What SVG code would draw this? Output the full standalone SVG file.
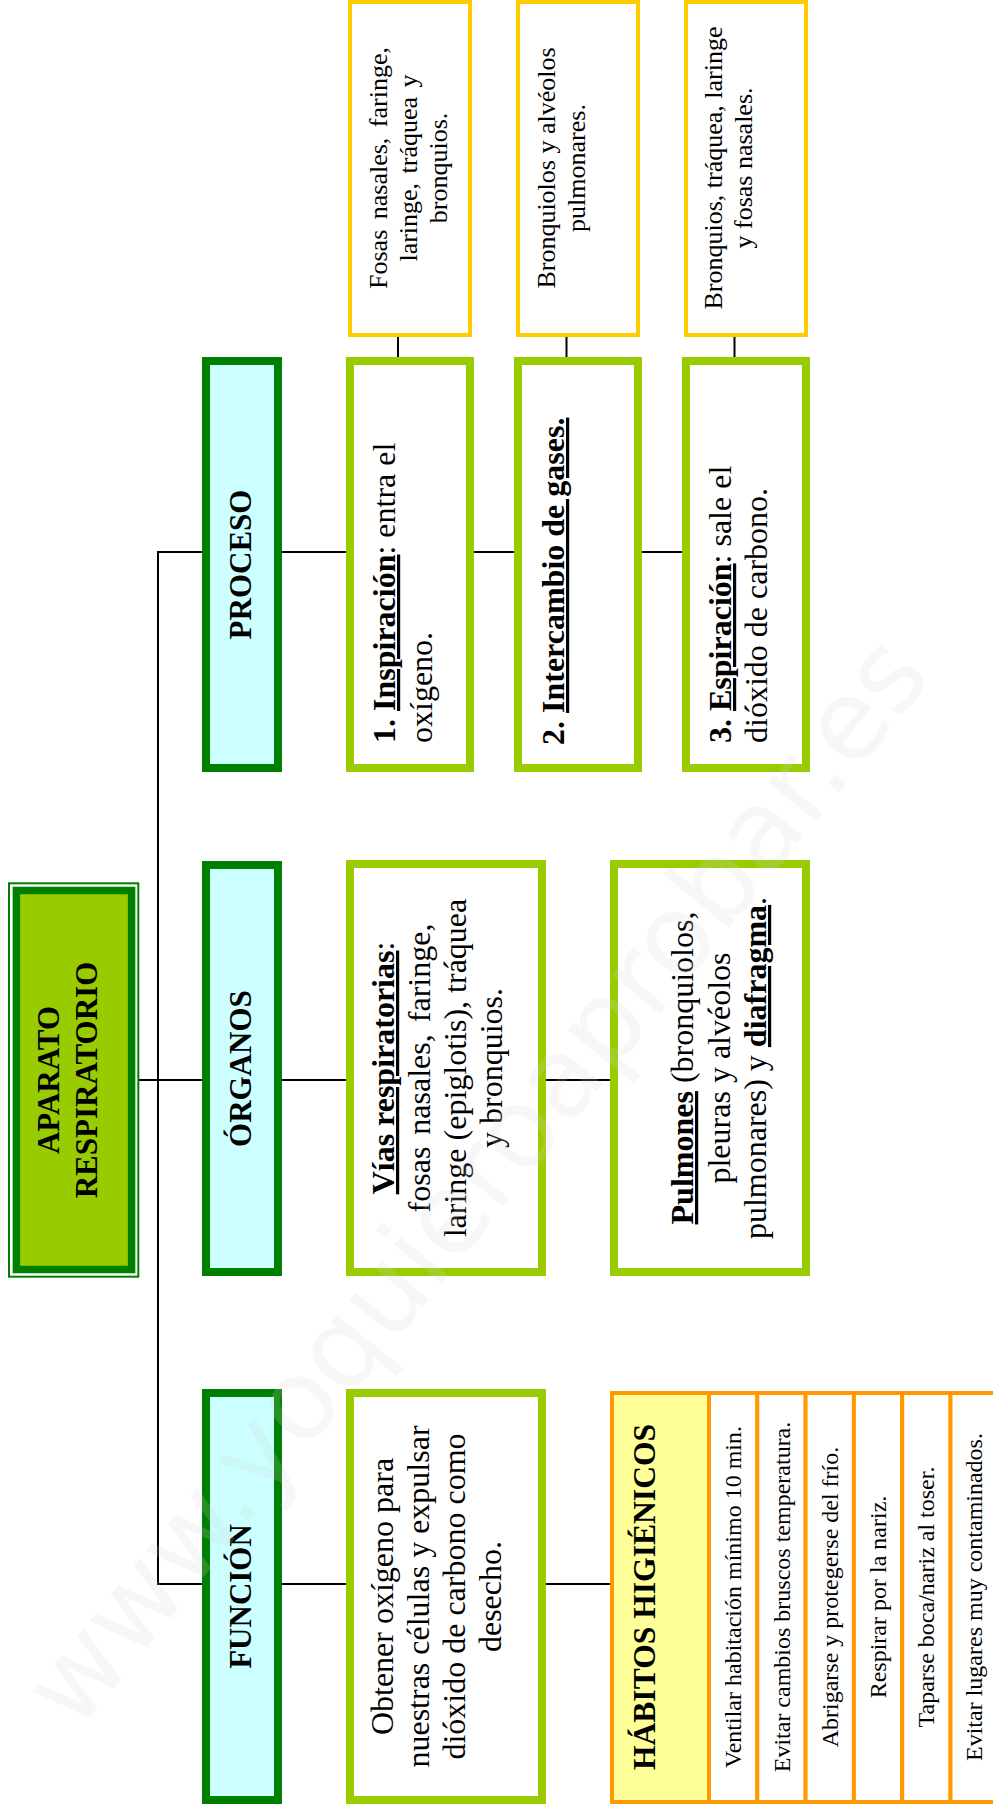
<svg xmlns="http://www.w3.org/2000/svg" width="993" height="1813" viewBox="0 0 993 1813">
<style>
text{font-family:"Liberation Serif","Times New Roman",serif;fill:#000}
.hdr{fill:#CCFFFF;stroke:#008000;stroke-width:8}
.box{fill:#FFFFFF;stroke:#99CC00;stroke-width:8}
.ybox{fill:#FFFFFF;stroke:#FFCC00;stroke-width:4}
.tcell{fill:#FFFFFF;stroke:#FF9900;stroke-width:4}
.thead{fill:#FFFF99;stroke:#FF9900;stroke-width:4}
.h{font-size:31px;font-weight:bold}
.t32{font-size:32px}
.t26{font-size:26px}
.t24{font-size:24px}
.b{font-weight:bold}
.u{text-decoration:underline}
.conn line{stroke:#000;stroke-width:2}
.wm{font-family:"DejaVu Sans",sans-serif;font-size:112px;fill:#d6d6d6;opacity:0.18}
</style>
<rect width="993" height="1813" fill="#FFFFFF"/>

<g id="connectors" class="conn">
<line x1="158" y1="551" x2="158" y2="1585"/>
<line x1="157" y1="552" x2="206" y2="552"/>
<line x1="278" y1="552" x2="350" y2="552"/>
<line x1="470" y1="552" x2="518" y2="552"/>
<line x1="638" y1="552" x2="686" y2="552"/>
<line x1="398" y1="337" x2="398" y2="361"/>
<line x1="566.5" y1="337" x2="566.5" y2="361"/>
<line x1="734.5" y1="337" x2="734.5" y2="361"/>
<line x1="133" y1="1080" x2="206" y2="1080"/>
<line x1="278" y1="1080" x2="350" y2="1080"/>
<line x1="542" y1="1080" x2="614" y2="1080"/>
<line x1="157" y1="1584" x2="206" y2="1584"/>
<line x1="278" y1="1584" x2="350" y2="1584"/>
<line x1="542" y1="1584" x2="614" y2="1584"/>
</g>

<g id="aparato">
<rect x="9" y="883.3" width="129.3" height="393.4" fill="#FFFFFF" stroke="#008000" stroke-width="2"/>
<rect x="16.4" y="890.5" width="115.2" height="379" fill="#99CC00" stroke="#008000" stroke-width="7.5"/>
<g transform="translate(59 1080) rotate(-90)" class="h" text-anchor="middle">
<text x="0" y="0">APARATO</text>
<text x="0" y="38">RESPIRATORIO</text>
</g>
</g>

<g id="proceso">
<rect class="hdr" x="206" y="361" width="72" height="407"/>
<text class="h" text-anchor="middle" transform="translate(251 564.5) rotate(-90)">PROCESO</text>
</g>
<g id="organos">
<rect class="hdr" x="206" y="865" width="72" height="407"/>
<text class="h" text-anchor="middle" transform="translate(251 1068.5) rotate(-90)">ÓRGANOS</text>
</g>
<g id="funcion">
<rect class="hdr" x="206" y="1393" width="72" height="407"/>
<text class="h" text-anchor="middle" transform="translate(251 1596.5) rotate(-90)">FUNCIÓN</text>
</g>

<g id="inspiracion">
<rect class="box" x="350" y="361" width="120" height="407"/>
<g class="t32" transform="translate(395 743) rotate(-90)">
<text x="0" y="0"><tspan class="b">1. </tspan><tspan class="b u">Inspiración</tspan>: entra el</text>
<text x="0" y="37">oxígeno.</text>
</g>
</g>
<g id="intercambio">
<rect class="box" x="518" y="361" width="120" height="407"/>
<g class="t32" transform="translate(564 745) rotate(-90)">
<text x="0" y="0"><tspan class="b">2. </tspan><tspan class="b u">Intercambio de gases.</tspan></text>
</g>
</g>
<g id="espiracion">
<rect class="box" x="686" y="361" width="120" height="407"/>
<g class="t32" transform="translate(731 743) rotate(-90)">
<text x="0" y="0"><tspan class="b">3. </tspan><tspan class="b u">Espiración</tspan>: sale el</text>
<text x="0" y="36">dióxido de carbono.</text>
</g>
</g>

<g id="yellow1">
<rect class="ybox" x="350" y="2" width="120" height="333"/>
<g class="t26" text-anchor="middle" transform="translate(387 168) rotate(-90)">
<text x="0" y="0" word-spacing="4">Fosas nasales, faringe,</text>
<text x="0" y="30" word-spacing="3">laringe, tráquea y</text>
<text x="0" y="60">bronquios.</text>
</g>
</g>
<g id="yellow2">
<rect class="ybox" x="518" y="2" width="120" height="333"/>
<g class="t26" text-anchor="middle" transform="translate(555 168) rotate(-90)">
<text x="0" y="0">Bronquiolos y alvéolos</text>
<text x="0" y="30">pulmonares.</text>
</g>
</g>
<g id="yellow3">
<rect class="ybox" x="686" y="2" width="120" height="333"/>
<g class="t26" text-anchor="middle" transform="translate(722 168) rotate(-90)">
<text x="0" y="0">Bronquios, tráquea, laringe</text>
<text x="0" y="30">y fosas nasales.</text>
</g>
</g>

<g id="vias">
<rect class="box" x="350" y="864" width="192" height="408"/>
<g class="t32" text-anchor="middle" transform="translate(394 1068) rotate(-90)">
<text x="0" y="0"><tspan class="b u">Vías respiratorias</tspan>:</text>
<text x="0" y="36" word-spacing="4">fosas nasales, faringe,</text>
<text x="0" y="72">laringe (epiglotis), tráquea</text>
<text x="0" y="108">y bronquios.</text>
</g>
</g>
<g id="pulmones">
<rect class="box" x="614" y="864" width="192" height="408"/>
<g class="t32" text-anchor="middle" transform="translate(693 1068) rotate(-90)">
<text x="0" y="0"><tspan class="b u">Pulmones</tspan> (bronquiolos,</text>
<text x="0" y="36.5">pleuras y alvéolos</text>
<text x="0" y="73">pulmonares) y <tspan class="b u">diafragma</tspan>.</text>
</g>
</g>

<g id="obtener">
<rect class="box" x="350" y="1393" width="192" height="407"/>
<g class="t32" text-anchor="middle" transform="translate(393 1596.5) rotate(-90)">
<text x="0" y="0">Obtener oxígeno para</text>
<text x="0" y="36">nuestras células y expulsar</text>
<text x="0" y="72">dióxido de carbono como</text>
<text x="0" y="108">desecho.</text>
</g>
</g>

<g id="habitos">
<rect class="thead" x="612" y="1393" width="97" height="409"/>
<rect class="tcell" x="709" y="1393" width="48.3" height="409"/>
<rect class="tcell" x="757.3" y="1393" width="48.3" height="409"/>
<rect class="tcell" x="805.6" y="1393" width="48.3" height="409"/>
<rect class="tcell" x="853.9" y="1393" width="48.3" height="409"/>
<rect class="tcell" x="902.2" y="1393" width="48.3" height="409"/>
<rect class="tcell" x="950.5" y="1393" width="48.3" height="409"/>
<text class="b" font-size="31.6" text-anchor="middle" transform="translate(655 1597) rotate(-90)">HÁBITOS HIGIÉNICOS</text>
<g class="t24" text-anchor="middle">
<text transform="translate(741 1597) rotate(-90)">Ventilar habitación mínimo 10 min.</text>
<text transform="translate(789.5 1597) rotate(-90)">Evitar cambios bruscos temperatura.</text>
<text transform="translate(838 1597) rotate(-90)">Abrigarse y protegerse del frío.</text>
<text transform="translate(886 1597) rotate(-90)">Respirar por la nariz.</text>
<text transform="translate(934 1597) rotate(-90)">Taparse boca/nariz al toser.</text>
<text transform="translate(982 1597) rotate(-90)">Evitar lugares muy contaminados.</text>
</g>
</g>

<text class="wm" text-anchor="middle" textLength="1360" lengthAdjust="spacingAndGlyphs" transform="translate(505 1205) rotate(-51)">www.yoquieroaprobar.es</text>
</svg>
